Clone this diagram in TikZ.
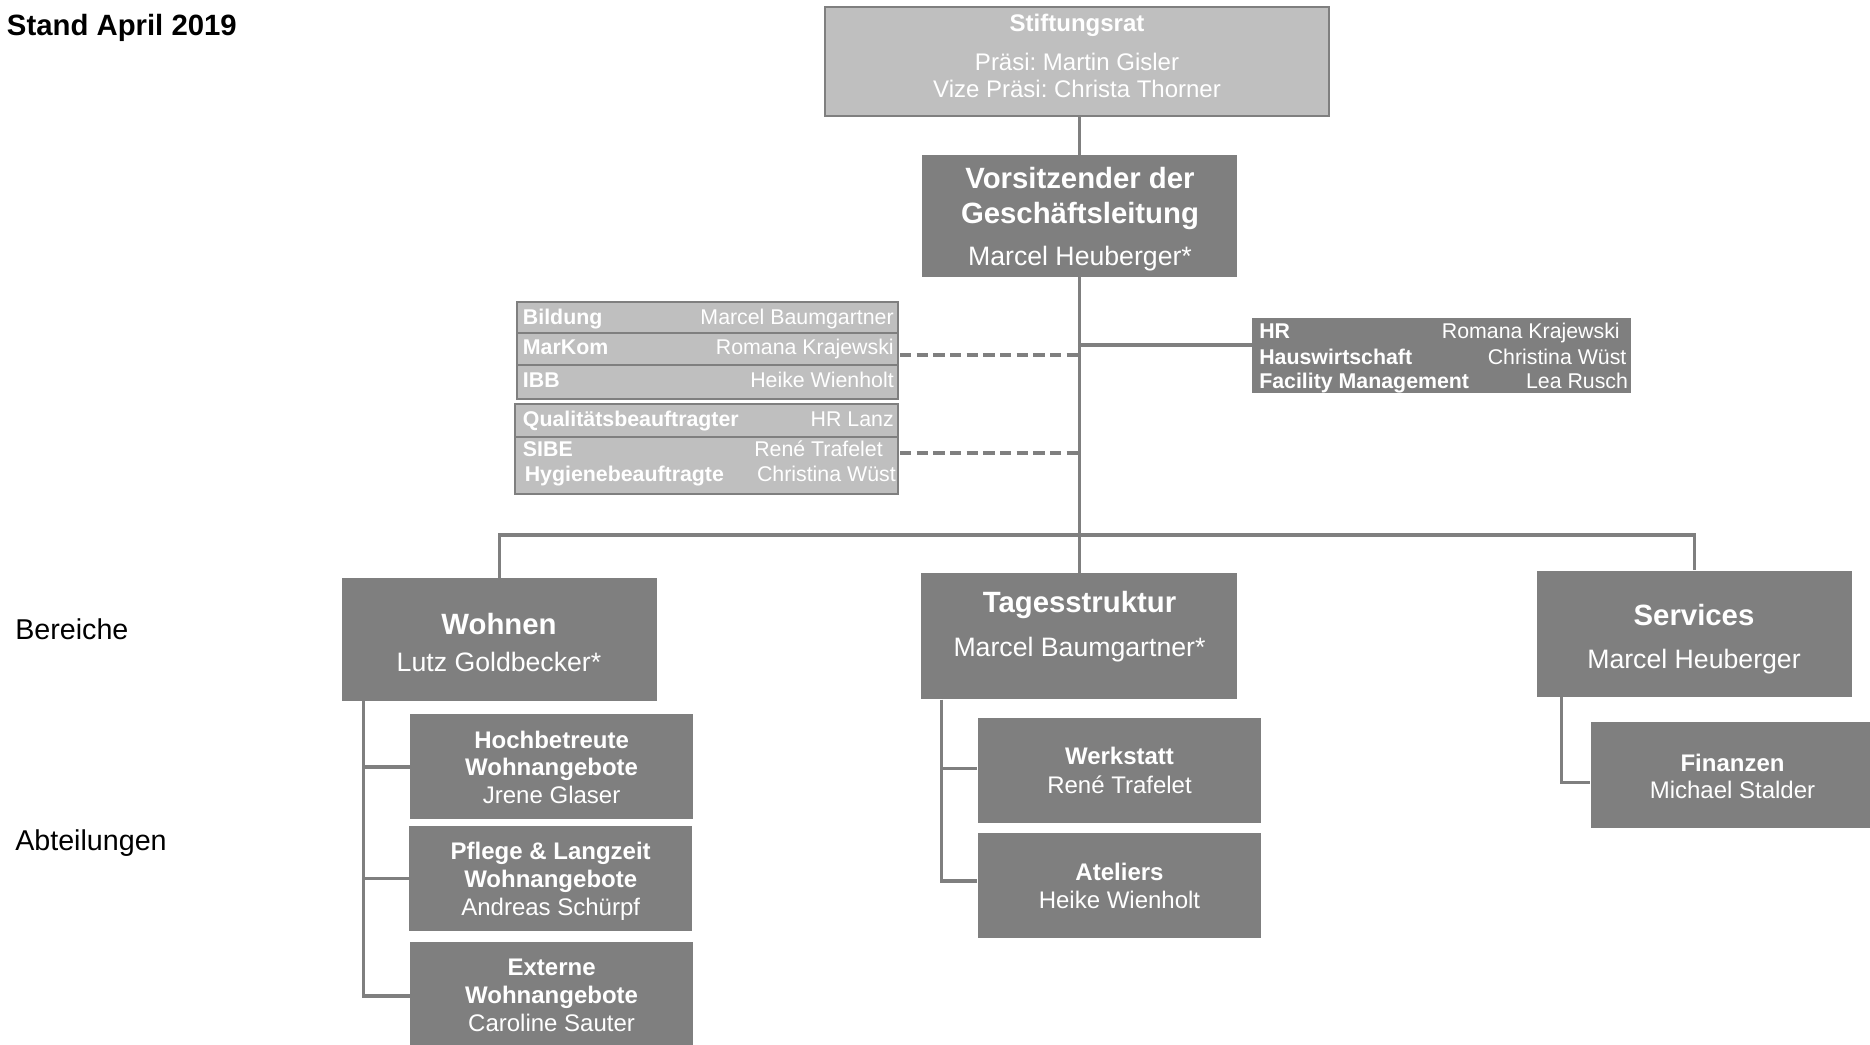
\documentclass[tikz,border=0pt]{standalone}
\usepackage{fontspec}
\setmainfont{Liberation Sans}
\usetikzlibrary{fit,calc}
\frenchspacing
\definecolor{dg}{HTML}{7F7F7F}
\definecolor{lg}{HTML}{BFBFBF}
\definecolor{ln}{HTML}{7F7F7F}
\newcommand\fTitle{\fontsize{22}{26}\selectfont\bfseries}
\newcommand\fSide{\fontsize{21.5}{26}\selectfont}
\newcommand\fBig{\fontsize{22}{26}\selectfont\bfseries}
\newcommand\fName{\fontsize{20}{24}\selectfont}
\newcommand\fSubB{\fontsize{18}{21}\selectfont\bfseries}
\newcommand\fSub{\fontsize{18}{21}\selectfont}
\newcommand\fRowB{\fontsize{16}{19}\selectfont\bfseries}
\newcommand\fRow{\fontsize{16}{19}\selectfont}
\begin{document}
\begin{tikzpicture}[x=0.75pt,y=-0.75pt,
  txt/.style={inner sep=0pt,anchor=base,text=white},
  txtl/.style={txt,anchor=base west},
  txtr/.style={txt,anchor=base east},
  dbox/.style={fill=dg,draw=none,inner sep=0pt},
  lbox/.style={fill=lg,draw=ln,line width=1.5pt,inner sep=0pt},
  conn/.style={draw=ln,line width=2.6pt},
  dashln/.style={draw=ln,line width=2.8pt,dash pattern=on 8.5pt off 4pt}]
\useasboundingbox[fill=white] (0,0) rectangle (1870,1045);

% ---------- boxes ----------
\node[lbox,fit={(825,7.5) (1329,116.5)}] (stift) {};
\node[dbox,fit={(922,155) (1237,277)}] (vors) {};

\node[lbox,fit={(517,302) (898,332.5)}] (rBild) {};
\node[lbox,fit={(517,332.5) (898,365)}] (rMar) {};
\node[lbox,fit={(517,365) (898,399)}] (rIBB) {};
\node[lbox,fit={(515,403.5) (898,437)}] (rQual) {};
\node[lbox,fit={(515,437) (898,494)}] (rSibe) {};

\node[dbox,fit={(1252,317.5) (1631,392.5)}] (hr) {};

\node[dbox,fit={(342,578.3) (656.7,701)}] (wohnen) {};
\node[dbox,fit={(920.7,573.3) (1237.3,699.3)}] (tages) {};
\node[dbox,fit={(1536.7,570.7) (1852.3,696.7)}] (serv) {};

\node[dbox,fit={(410,714.3) (693.3,819.3)}] (hoch) {};
\node[dbox,fit={(409,825.7) (692.3,931)}] (pfle) {};
\node[dbox,fit={(410,941.7) (693.3,1050)}] (ext) {};

\node[dbox,fit={(977.7,718.3) (1261,823.3)}] (werk) {};
\node[dbox,fit={(977.7,833.3) (1261,938.3)}] (atel) {};

\node[dbox,fit={(1590.7,722.3) (1875,827.7)}] (fin) {};

% ---------- connectors ----------
\coordinate (bar) at (1079,535);
\draw[conn] (vors.north |- stift.south) -- (vors.north);
\draw[conn] (vors.south) -- (vors.south |- tages.north);
\draw[conn] (wohnen.north) |- (bar) -| (serv.north);

\coordinate (h1) at (1252,345);
\draw[conn] (h1 -| vors.south) -- (h1);

\coordinate (d1) at (900,355);
\coordinate (d2) at (900,452.7);
\draw[dashln] (d1) -- (d1 -| vors.south);
\draw[dashln] (d2) -- (d2 -| vors.south);

\coordinate (wv) at ($(wohnen.south west)+(22,0)$);
\draw[conn] (wv) |- (ext.west);
\draw[conn] (wv |- hoch.west) -- (hoch.west);
\draw[conn] (wv |- pfle.west) -- (pfle.west);

\coordinate (tv) at ($(tages.south west)+(21,0)$);
\coordinate (wk) at ($(werk.west)+(0,-2.5)$);
\coordinate (at) at ($(atel.west)+(0,-5)$);
\draw[conn] (tv) |- (at);
\draw[conn] (tv |- wk) -- (wk);

\coordinate (sv) at ($(serv.south west)+(25,0)$);
\coordinate (fi) at ($(fin.west)+(0,7.7)$);
\draw[conn] (sv) |- (fi);

% ---------- texts ----------
\node[txtl,text=black,font=\fTitle] (stand) at (6.7,35.7) {Stand April 2019};
\node[txtl,text=black,font=\fSide] (bereiche) at (15,639.3) {Bereiche};
\node[txtl,text=black,font=\fSide] (abteil) at (15,850.7) {Abteilungen};

\node[txt,font=\fSubB] (st1) at (1077,31.4) {Stiftungsrat};
\node[txt,font=\fSub] (st2) at (1077,70.6) {Präsi: Martin Gisler};
\node[txt,font=\fSub] (st3) at (1077,97.8) {Vize Präsi: Christa Thorner};

\node[txt,font=\fBig] (vo1) at (1080,188.8) {Vorsitzender der};
\node[txt,font=\fBig] (vo2) at (1080,223.2) {Geschäftsleitung};
\node[txt,font=\fName] (vo3) at (1080,265.7) {Marcel Heuberger*};

\node[txtl,font=\fRowB] (g1a) at (522.7,324.9) {Bildung};
\node[txtr,font=\fRow] (g1b) at (894,324.9) {Marcel Baumgartner};
\node[txtl,font=\fRowB] (g2a) at (522.7,354.6) {MarKom};
\node[txtr,font=\fRow] (g2b) at (894,354.6) {Romana Krajewski};
\node[txtl,font=\fRowB] (g3a) at (522.7,387.6) {IBB};
\node[txtr,font=\fRow] (g3b) at (894,387.6) {Heike Wienholt};
\node[txtl,font=\fRowB] (g4a) at (522.7,426.6) {Qualitätsbeauftragter};
\node[txtr,font=\fRow] (g4b) at (894,426.6) {HR Lanz};
\node[txtl,font=\fRowB] (g5a) at (522.7,456.3) {SIBE};
\node[txtr,font=\fRow] (g5b) at (883,456.3) {René Trafelet};
\node[txtl,font=\fRowB] (g6a) at (524.5,481.6) {Hygienebeauftragte};
\node[txtr,font=\fRow] (g6b) at (896,481.6) {Christina Wüst};

\node[txtl,font=\fRowB] (hr1a) at (1259,338.9) {HR};
\node[txtr,font=\fRow] (hr1b) at (1620,338.9) {Romana Krajewski};
\node[txtl,font=\fRowB] (hr2a) at (1259,364.3) {Hauswirtschaft};
\node[txtr,font=\fRow] (hr2b) at (1626.7,364.3) {Christina Wüst};
\node[txtl,font=\fRowB] (hr3a) at (1259,388.3) {Facility Management};
\node[txtr,font=\fRow] (hr3b) at (1628.3,388.3) {Lea Rusch};

\node[txt,font=\fBig] (wo1) at (499,634) {Wohnen};
\node[txt,font=\fName] (wo2) at (499,671) {Lutz Goldbecker*};
\node[txt,font=\fBig] (ta1) at (1079.5,612.5) {Tagesstruktur};
\node[txt,font=\fName] (ta2) at (1079.5,656.2) {Marcel Baumgartner*};
\node[txt,font=\fBig] (se1) at (1694,625.2) {Services};
\node[txt,font=\fName] (se2) at (1694,668.5) {Marcel Heuberger};

\node[txt,font=\fSubB] (ho1) at (551.6,748.6) {Hochbetreute};
\node[txt,font=\fSubB] (ho2) at (551.6,775.6) {Wohnangebote};
\node[txt,font=\fSub] (ho3) at (551.6,803.6) {Jrene Glaser};
\node[txt,font=\fSubB] (pf1) at (550.7,859.6) {Pflege \& Langzeit};
\node[txt,font=\fSubB] (pf2) at (550.7,887.6) {Wohnangebote};
\node[txt,font=\fSub] (pf3) at (550.7,915.3) {Andreas Schürpf};
\node[txt,font=\fSubB] (ex1) at (551.6,975.6) {Externe};
\node[txt,font=\fSubB] (ex2) at (551.6,1003.6) {Wohnangebote};
\node[txt,font=\fSub] (ex3) at (551.6,1031.3) {Caroline Sauter};

\node[txt,font=\fSubB] (wk1) at (1119.5,764.9) {Werkstatt};
\node[txt,font=\fSub] (wk2) at (1119.5,793.3) {René Trafelet};
\node[txt,font=\fSubB] (at1) at (1119.5,880.6) {Ateliers};
\node[txt,font=\fSub] (at2) at (1119.5,908.3) {Heike Wienholt};

\node[txt,font=\fSubB] (fi1) at (1732.5,771.4) {Finanzen};
\node[txt,font=\fSub] (fi2) at (1732.5,798.6) {Michael Stalder};
\end{tikzpicture}
\end{document}
